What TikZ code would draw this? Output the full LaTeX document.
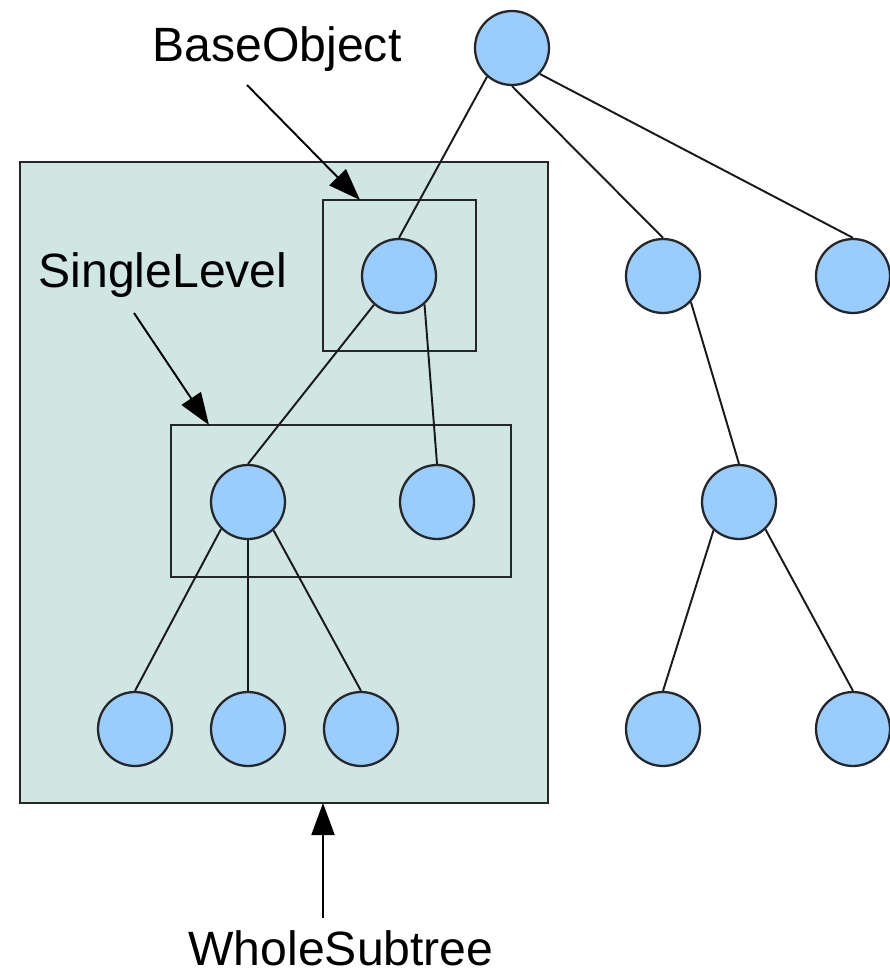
\documentclass[tikz,border=0pt]{standalone}
\usepackage{fontspec}
\setmainfont{Liberation Sans}
\usepackage{xcolor}
\usetikzlibrary{arrows.meta}

\definecolor{nodeblue}{RGB}{153,204,255}
\definecolor{subtreefill}{RGB}{207,230,227}

\tikzset{
	treenode/.style={circle, draw=black!85, line width=1.3pt, fill=nodeblue, minimum size=1.48cm, inner sep=0pt},
	branch/.style={draw=black!90, line width=1.1pt},
	frame/.style={draw=black!85, line width=1.1pt},
	tag/.style={font=\fontsize{27.4}{32}\selectfont, anchor=base, inner sep=1pt},
	pointer/.style={draw=black, line width=1.1pt, -{Triangle[length=0.64cm, width=0.46cm]}}
}

\begin{document}
\begin{tikzpicture}[x=0.02cm, y=-0.02cm]
				\useasboundingbox (0,0) rectangle (889,976);
				
				%Boxes
				\filldraw[frame, fill=subtreefill] (20,162) rectangle (548,803);
				\draw[frame] (323,200) rectangle (476,351);
				\draw[frame] (171,425) rectangle (511,577);
				
				%Level 1
				\node[treenode] (root) at (512,48) {};
				
				%Level 2
				\node[treenode] (a) at (399,276) {};
				\node[treenode] (b) at (663,276) {};
				\node[treenode] (c) at (853,276) {};
				
				%Level 3
				\node[treenode] (d) at (248,502) {};
				\node[treenode] (e) at (437,502) {};
				\node[treenode] (i) at (739,502) {};
				
				%Level 4
				\node[treenode] (f) at (135,729) {};
				\node[treenode] (g) at (248,729) {};
				\node[treenode] (h) at (361,729) {};
				\node[treenode] (j) at (663,729) {};
				\node[treenode] (k) at (853,729) {};
				
				%Lines
				\draw[branch] (root.229) -- (a.north);
				\draw[branch] (root.south) -- (b.north);
				\draw[branch] (root.317) -- (c.north);
				\draw[branch] (a.229) -- (d.north);
				\draw[branch] (a.312) -- (e.north);
				\draw[branch] (b.317) -- (i.north);
				\draw[branch] (d.225) -- (f.north);
				\draw[branch] (d.south) -- (g.north);
				\draw[branch] (d.312) -- (h.north);
				\draw[branch] (i.228) -- (j.north);
				\draw[branch] (i.314) -- (k.north);
				
				%Labels
				\node[tag] (baseobj) at (277,62) {BaseObject};
				\node[tag] (single) at (163,288) {SingleLevel};
				\node[tag] (whole) at (341,965) {WholeSubtree};
				
				%Arrows
				\coordinate (bo-tail) at (247,85);
				\coordinate (bo-head) at (360,200);
				\coordinate (sl-tail) at (134,313);
				\coordinate (sl-head) at (209,425);
				\coordinate (ws-tail) at (323,918);
				\coordinate (ws-head) at (323,803);
				\draw[pointer] (bo-tail) -- (bo-head);
				\draw[pointer] (sl-tail) -- (sl-head);
				\draw[pointer] (ws-tail) -- (ws-head);
\end{tikzpicture}
\end{document}
